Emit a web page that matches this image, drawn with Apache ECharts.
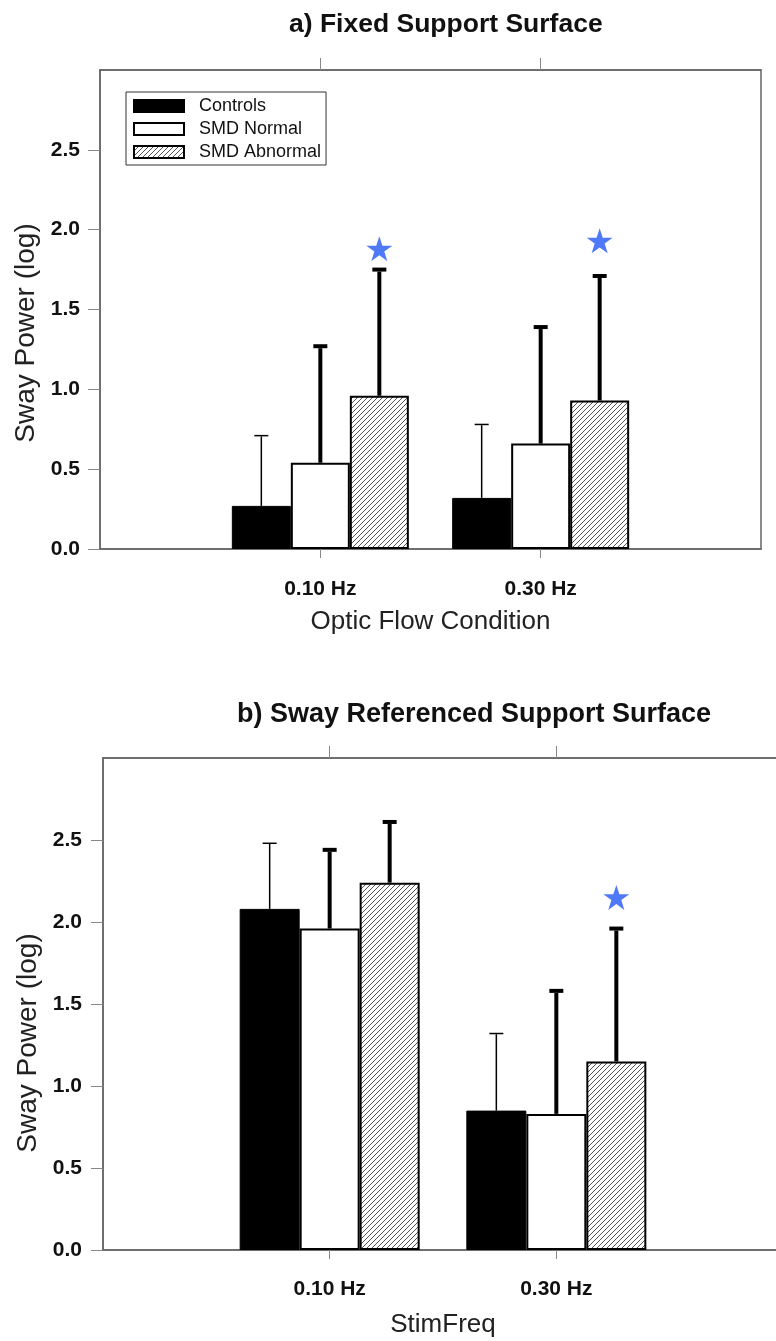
<!DOCTYPE html>
<html>
<head>
<meta charset="utf-8">
<script src="https://cdn.jsdelivr.net/npm/echarts@6/dist/echarts.min.js"></script>
<style>
  html, body { margin: 0; padding: 0; background: #fff; }
  #chart { width: 776px; height: 1341px; }
</style>
</head>
<body>
<div id="chart"></div>
<script>
// categories (empty ends pad the axis like the original)
const categories = ['', '0.10 Hz', '0.30 Hz', '']
const yTicks = [0, 0.5, 1.0, 1.5, 2.0, 2.5]

// a) fixed support surface: means and +SD
const fixedControls = [0.27, 0.32]
const fixedControlsSD = [0.44, 0.46]
const fixedNormal = [0.54, 0.66]
const fixedNormalSD = [0.73, 0.73]
const fixedAbnormal = [0.96, 0.93]
const fixedAbnormalSD = [0.79, 0.78]
const fixedStars = [1.88, 1.93]

// b) sway referenced support surface
const swayControls = [2.08, 0.85]
const swayControlsSD = [0.40, 0.47]
const swayNormal = [1.96, 0.83]
const swayNormalSD = [0.48, 0.75]
const swayAbnormal = [2.24, 1.15]
const swayAbnormalSD = [0.37, 0.81]
const swayStars = [null, 2.15]

const FONT = '"Liberation Sans", Arial, sans-serif'
const STAR = 'path://M50,0 L61.8,35.4 L100,35.4 L69.1,57.3 L80.9,95.1 L50,72.4 L19.1,95.1 L30.9,57.3 L0,35.4 L38.2,35.4 Z'

// hatch pattern for SMD Abnormal
const hatch = document.createElement('canvas')
hatch.width = 5
hatch.height = 5
const hctx = hatch.getContext('2d')
hctx.fillStyle = '#fff'
hctx.fillRect(0, 0, 5, 5)
hctx.strokeStyle = '#555'
hctx.lineWidth = 1
hctx.beginPath()
hctx.moveTo(-1, 6); hctx.lineTo(6, -1)
hctx.moveTo(-1, 1); hctx.lineTo(1, -1)
hctx.moveTo(4, 6); hctx.lineTo(6, 4)
hctx.stroke()
const hatchFill = { image: hatch, repeat: 'repeat' }

const pad = arr => ['-', ...arr, '-']

const barStyles = [
  { name: 'Controls', itemStyle: { color: '#000', borderColor: '#000', borderWidth: 1 } },
  { name: 'SMD Normal', itemStyle: { color: '#fff', borderColor: '#000', borderWidth: 2 } },
  { name: 'SMD Abnormal', itemStyle: { color: hatchFill, borderColor: '#000', borderWidth: 2 } }
]

const makeBars = (grid, values, barWidth) => values.map((v, i) => ({
  name: barStyles[i].name,
  type: 'bar',
  xAxisIndex: grid * 2,
  yAxisIndex: grid,
  barWidth: barWidth,
  barGap: '0%',
  data: pad(v),
  itemStyle: barStyles[i].itemStyle,
  emphasis: { disabled: true },
  z: 2
}))

const makeErrors = (grid, values, sds, barWidth) => values.map((v, i) => ({
  type: 'custom',
  xAxisIndex: grid * 2,
  yAxisIndex: grid,
  z: 3,
  silent: true,
  data: v.map((m, k) => [k + 1, m, sds[i][k]]),
  encode: { x: 0, y: 1 },
  renderItem: (params, api) => {
    const base = api.coord([api.value(0), api.value(1)])
    const top = api.coord([api.value(0), api.value(1) + api.value(2)])
    const x = base[0] + (i - 1) * barWidth
    const lw = i === 0 ? 1.5 : 4
    const capH = i === 0 ? 1.5 : 4
    return {
      type: 'group',
      children: [
        { type: 'line', shape: { x1: x, y1: base[1], x2: x, y2: top[1] + capH / 2 },
          style: { stroke: '#000', lineWidth: lw } },
        { type: 'line', shape: { x1: x - 7, y1: top[1], x2: x + 7, y2: top[1] },
          style: { stroke: '#000', lineWidth: capH } }
      ]
    }
  }
}))

const makeStars = (grid, stars, barWidth) => ({
  type: 'scatter',
  xAxisIndex: grid * 2,
  yAxisIndex: grid,
  symbol: STAR,
  symbolSize: [26, 25],
  symbolOffset: [barWidth, 0],
  itemStyle: { color: '#2358f5' },
  silent: true,
  z: 4,
  data: stars.map((s, k) => s == null ? null : [k + 1, s]).filter(d => d)
})

const xBottom = (grid, name, nameGap, margin) => ({
  type: 'category',
  gridIndex: grid,
  data: categories,
  boundaryGap: false,
  position: 'bottom',
  name: name,
  nameLocation: 'middle',
  nameGap: nameGap,
  nameTextStyle: { fontFamily: FONT, fontSize: 26, color: '#222' },
  axisLine: { lineStyle: { color: '#666', width: 1.5 } },
  axisTick: { length: 9, lineStyle: { color: '#888' }, interval: i => i === 1 || i === 2 },
  axisLabel: { interval: 0, margin: margin, fontFamily: FONT, fontSize: 21, fontWeight: 'bold', color: '#111' },
  splitLine: { show: false }
})

const xTop = grid => ({
  type: 'category',
  gridIndex: grid,
  data: categories,
  boundaryGap: false,
  position: 'top',
  axisLine: { lineStyle: { color: '#666', width: 1.5 } },
  axisTick: { length: 12, lineStyle: { color: '#888' }, interval: i => i === 1 || i === 2 },
  axisLabel: { show: false },
  splitLine: { show: false }
})

const yAxis = (grid, margin, namePad) => ({
  type: 'value',
  gridIndex: grid,
  min: 0,
  max: 3,
  interval: 0.5,
  name: 'Sway Power (log)',
  nameLocation: 'middle',
  nameGap: 59,
  nameTextStyle: { fontFamily: FONT, fontSize: 28, color: '#222', padding: [0, namePad, 0, 0] },
  axisLine: { show: true, lineStyle: { color: '#666', width: 1.5 } },
  axisTick: { show: true, length: 12, lineStyle: { color: '#888' }, customValues: yTicks },
  axisLabel: { margin: margin, fontFamily: FONT, fontSize: 21, fontWeight: 'bold', color: '#111',
    customValues: yTicks, formatter: v => v.toFixed(1) },
  splitLine: { show: false }
})

const chart = echarts.init(document.getElementById('chart'))
chart.setOption({
  animation: false,
  backgroundColor: '#fff',
  title: [
    { text: 'a) Fixed Support Surface', left: 284, top: 6,
      textStyle: { fontFamily: FONT, fontSize: 26.5, fontWeight: 'bold', color: '#111' } },
    { text: 'b) Sway Referenced Support Surface', left: 232, top: 696,
      textStyle: { fontFamily: FONT, fontSize: 27, fontWeight: 'bold', color: '#111' } }
  ],
  legend: {
    data: ['Controls', 'SMD Normal', 'SMD Abnormal'],
    orient: 'vertical',
    left: 126,
    top: 92,
    icon: 'rect',
    itemWidth: 50,
    itemHeight: 12,
    itemGap: 5,
    padding: [5, 5, 4, 7],
    borderColor: '#333',
    borderWidth: 1,
    selectedMode: false,
    textStyle: { fontFamily: FONT, fontSize: 18, color: '#111', padding: [0, 0, 0, 10] }
  },
  grid: [
    { left: 100, top: 70, width: 661, height: 479, show: true, borderColor: '#666', borderWidth: 1.5,
      outerBoundsMode: 'none' },
    { left: 103, top: 758, width: 680, height: 492, show: true, borderColor: '#666', borderWidth: 1.5,
      outerBoundsMode: 'none' }
  ],
  xAxis: [
    xBottom(0, 'Optic Flow Condition', 60, 30),
    xTop(0),
    xBottom(1, 'StimFreq', 62, 29),
    xTop(1)
  ],
  yAxis: [yAxis(0, 20, 47), yAxis(1, 21, 78)],
  series: [
    ...makeBars(0, [fixedControls, fixedNormal, fixedAbnormal], 59),
    ...makeErrors(0, [fixedControls, fixedNormal, fixedAbnormal], [fixedControlsSD, fixedNormalSD, fixedAbnormalSD], 59),
    makeStars(0, fixedStars, 59),
    ...makeBars(1, [swayControls, swayNormal, swayAbnormal], 60),
    ...makeErrors(1, [swayControls, swayNormal, swayAbnormal], [swayControlsSD, swayNormalSD, swayAbnormalSD], 60),
    makeStars(1, swayStars, 60)
  ]
})
</script>
</body>
</html>
